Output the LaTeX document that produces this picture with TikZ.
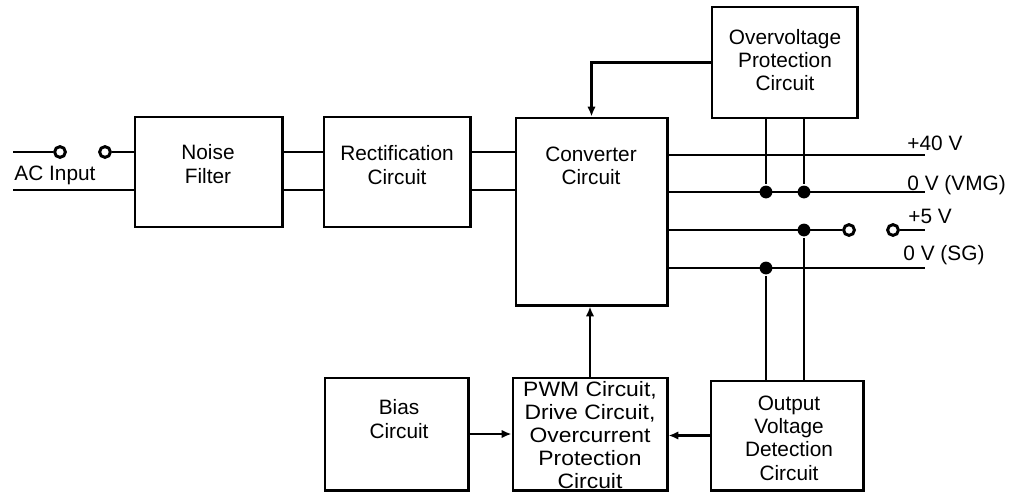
\documentclass[tikz,border=0pt]{standalone}
\usepackage{fontspec}
\setmainfont{Liberation Sans}
\usetikzlibrary{arrows.meta,calc,positioning}

\begin{document}
\begin{tikzpicture}[x=0.025cm,y=-0.025cm,
line width=2.1pt,
every node/.style={font=\fontsize{14.8}{16.6}\selectfont},
blk/.style={draw,rectangle,inner sep=0pt},
txt/.style={align=center,inner sep=0pt},
lbl/.style={anchor=base west,inner sep=0pt},
dot/.style={circle,fill,inner sep=0pt,minimum size=0.32cm},
term/.style={circle,draw,fill=white,inner sep=0pt,minimum size=0.27cm},
arr/.style={-{Latex[length=7pt,width=6pt]}}]
\useasboundingbox (0,0) rectangle (1016,493);

% blocks
\node[blk,minimum width=3.675cm,minimum height=2.75cm] (nf) at (208.5,172) {};
\node[blk,minimum width=3.65cm,minimum height=2.75cm] (rc) at (397,172) {};
\node[blk,minimum width=3.775cm,minimum height=4.675cm] (cc) at (591.5,211.5) {};
\node[blk,minimum width=3.625cm,minimum height=2.775cm] (ovp) at (784.5,62.5) {};
\node[blk,minimum width=3.575cm,minimum height=2.8cm] (bias) at (396.5,434) {};
\node[blk,minimum width=3.85cm,minimum height=2.8cm] (pwm) at (590,434) {};
\node[blk,minimum width=3.8cm,minimum height=2.725cm] (odc) at (787,435.5) {};

% block texts
\node[txt] (nf-t) at (208,164) {Noise\\Filter};
\node[txt] (rc-t) at (397,165) {Rectification\\Circuit};
\node[txt] (cc-t) at (591,166) {Converter\\Circuit};
\node[txt] (ovp-t) at (785,60) {Overvoltage\\Protection\\Circuit};
\node[txt] (bias-t) at (399,419) {Bias\\Circuit};
\node[txt,xscale=1.1,transform shape,font=\fontsize{14.8}{16.2}\selectfont] (pwm-t) at (590,435) {PWM Circuit,\\Drive Circuit,\\Overcurrent\\Protection\\Circuit};
\node[txt] (odc-t) at (789,438) {Output\\Voltage\\Detection\\Circuit};

% AC input
\coordinate (acA) at (13,152);
\coordinate (acB) at (13,190);
\node[term] (t1) at (60,152) {};
\node[term] (t2) at (105,152) {};
\node[lbl] (ac-l) at (13,180) {AC Input};
\draw (acA)--(t1);
\draw (t2)--(t2 -| nf.west);
\draw (acB)--(acB -| nf.west);
\draw (nf.east |- t2)--(rc.west |- t2);
\draw (nf.east |- acB)--(rc.west |- acB);
\draw (rc.east |- t2)--(cc.west |- t2);
\draw (rc.east |- acB)--(cc.west |- acB);

% outputs
\coordinate (o40) at (925,155);
\coordinate (ovmg) at (925,192);
\coordinate (o5) at (925,230);
\coordinate (osg) at (925,268);
\node[term] (t3) at (849,230) {};
\node[term] (t4) at (893,230) {};
\draw (cc.east |- o40)--(o40);
\draw (cc.east |- ovmg)--(ovmg);
\draw (cc.east |- o5)--(t3);
\draw (t4)--(o5);
\draw (cc.east |- osg)--(osg);
\node[lbl] (l40) at (906,150) {+40 V};
\node[lbl] (lvmg) at (906,190) {0 V (VMG)};
\node[lbl] (l5) at (907,223) {+5 V};
\node[lbl] (lsg) at (902,260) {0 V (SG)};

% junctions
\node[dot] (d1) at (766,192) {};
\node[dot] (d2) at (804,192) {};
\node[dot] (d3) at (804,230) {};
\node[dot] (d4) at (766,268) {};
\draw (ovp.south -| d1)--(d1);
\draw (ovp.south -| d2)--(d2);
\draw (d3)--(odc.north -| d3);
\draw (d4)--(odc.north -| d4);

% feedback and control
\draw[arr] (ovp.west) -| (cc.north);
\draw[arr] (pwm.north)--(pwm.north |- cc.south);
\draw[arr] (bias.east)--(bias.east -| pwm.west);
\draw[arr] (odc.west)--(odc.west -| pwm.east);
\end{tikzpicture}
\end{document}
